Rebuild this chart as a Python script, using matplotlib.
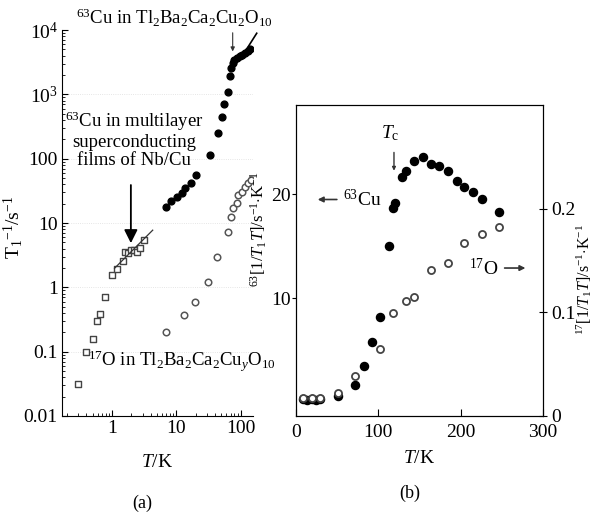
import matplotlib.pyplot as plt
from matplotlib.ticker import LogLocator, NullFormatter

plt.rcParams['font.family'] = 'Liberation Serif'
plt.rcParams['mathtext.fontset'] = 'custom'
plt.rcParams['mathtext.rm'] = 'Liberation Serif'
plt.rcParams['mathtext.it'] = 'Liberation Serif:italic'
plt.rcParams['mathtext.bf'] = 'Liberation Serif:bold'

# ---- panel (a) data: T1^-1 vs T (log-log) ----
nbcu_T = [0.30, 0.40, 0.51, 0.59, 0.65, 0.78, 1.0, 1.2, 1.48, 1.59, 1.77, 1.97, 2.19, 2.44, 2.72, 3.13]
nbcu_rate = [0.032, 0.098, 0.155, 0.30, 0.39, 0.70, 1.54, 1.9, 2.54, 3.5, 3.38, 3.76, 3.76, 3.5, 4.04, 5.38]
korringa_T = [1.1, 4.3]
korringa_const = 1.8

cu_T = [6.9, 8.2, 10.2, 12.2, 13.5, 16.8, 20.1, 33.1, 44.0, 50.7, 54.5, 62.8, 67.5, 70.0,
        75.2, 80.0, 86.7, 96.4, 105, 115, 128, 138]
cu_rate = [17.5, 21.8, 25.1, 29.0, 34.7, 41.4, 55.2, 113, 248, 440, 702, 1080, 1910, 2550,
           3050, 3400, 3650, 3920, 4150, 4360, 4750, 5030]

o_T = [6.9, 13.1, 19.4, 30.8, 42.5, 62.8, 70.0, 75.2, 86.7, 89.8, 104, 115, 128, 143]
o_rate = [0.20, 0.37, 0.60, 1.2, 3.0, 7.2, 12.3, 16.9, 20.3, 27.0, 30.0, 35.9, 41.4, 46.1]

# ---- panel (b) data: 1/(T1 T) vs T ----
cub_T = [8.5, 13, 19, 24, 29, 51, 72, 82, 92, 102, 113, 118, 120, 129, 134, 143, 154,
         164, 174, 185, 195, 204, 215, 226, 246]
cub_val = [0.3, 0.2, 0.3, 0.2, 0.3, 0.6, 1.6, 3.5, 5.8, 8.2, 15.0, 18.7, 19.2, 21.7, 22.2,
           23.2, 23.6, 22.9, 22.7, 22.2, 21.3, 20.7, 20.2, 19.5, 18.3]
ob_T = [8.5, 19, 29, 51, 72, 102, 118, 134, 143, 164, 185, 204, 226, 246]
ob_val = [0.017, 0.017, 0.017, 0.022, 0.039, 0.065, 0.099, 0.111, 0.115, 0.141, 0.148,
          0.167, 0.176, 0.182]

fig = plt.figure(figsize=(5.98, 5.13), dpi=100)

# ================= panel (a) =================
ax = fig.add_axes([62/598, 1-416/513, (253-62)/598, (416-30)/513])
ax.set_xscale('log')
ax.set_yscale('log')
ax.set_xlim(0.168, 155)
ax.set_ylim(0.01, 1e4)
ax.spines['top'].set_visible(False)
ax.spines['right'].set_visible(False)
for yv in [0.1, 1, 10, 100, 1000]:
    ax.axhline(yv, color='#dddddd', lw=0.6, ls=':', zorder=0)

ax.scatter(nbcu_T, nbcu_rate, marker='s', s=22, facecolors='white', edgecolors='#444444',
           linewidths=1.0, zorder=3)
ax.plot(korringa_T, [korringa_const*t for t in korringa_T], color='#333333', lw=0.9, zorder=4)
ax.scatter(cu_T, cu_rate, marker='o', s=24, color='black', zorder=3)
ax.scatter(o_T, o_rate, marker='o', s=22, facecolors='white', edgecolors='#555555',
           linewidths=1.1, zorder=3)

ax.set_yticks([0.01, 0.1, 1, 10, 100, 1000, 10000])
ax.set_yticklabels(['0.01', '0.1', '1', '10', '100', r'10$^3$', r'10$^4$'])
ax.set_xticks([1, 10, 100])
ax.set_xticklabels(['1', '10', '100'])
ax.xaxis.set_minor_locator(LogLocator(base=10, subs=range(2, 10), numticks=20))
ax.yaxis.set_minor_locator(LogLocator(base=10, subs=range(2, 10), numticks=20))
ax.xaxis.set_minor_formatter(NullFormatter())
ax.yaxis.set_minor_formatter(NullFormatter())
ax.tick_params(which='both', direction='in', labelsize=14, pad=3)
ax.tick_params(which='major', length=4)
ax.tick_params(which='minor', length=2)
ax.set_xlabel(r'$T$/K', fontsize=14, labelpad=12)
ax.set_ylabel(r'T$_1$$^{-1}$/s$^{-1}$', fontsize=14, labelpad=2)
ax.yaxis.set_label_coords(-0.195, 0.49)

ax.text(0.59, 1.03, r'$^{63}$Cu in Tl$_2$Ba$_2$Ca$_2$Cu$_2$O$_{10}$', transform=ax.transAxes,
        ha='center', va='center', fontsize=13.5)
ax.annotate('', xy=(75, 4200), xytext=(75, 10000), annotation_clip=False,
            arrowprops=dict(arrowstyle='-|>', color='#333333', lw=0.8, mutation_scale=6))
ax.plot([115, 177], [4500, 8900], color='black', lw=1.2, clip_on=False)

ax.text(2.2, 200, '$^{63}$Cu in multilayer\nsuperconducting\nfilms of Nb/Cu',
        ha='center', va='center', fontsize=13.5, linespacing=1.1)
ax.annotate('', xy=(1.97, 4.4), xytext=(1.97, 43),
            arrowprops=dict(arrowstyle='-|>', color='black', lw=1.3, mutation_scale=20))
ax.text(0.43, 0.07, r'$^{17}$O in Tl$_2$Ba$_2$Ca$_2$Cu$_y$O$_{10}$', ha='left', va='center',
        fontsize=13.5)
fig.text(142/598, 1-503/513, '(a)', ha='center', va='center', fontsize=13)

# ================= panel (b) =================
bx = fig.add_axes([296/598, 1-416/513, (543-296)/598, (416-105)/513])
bx.set_xlim(0, 300)
bx.set_ylim(-1.35, 28.6)
bx.scatter(cub_T, cub_val, marker='o', s=34, color='black', zorder=3)
bx.set_xticks([0, 100, 200, 300])
bx.set_yticks([10, 20])
bx.tick_params(axis='x', direction='in', labelsize=14, length=5, pad=6)
bx.tick_params(axis='y', direction='out', labelsize=14, length=3, pad=1)
bx.set_xlabel(r'$T$/K', fontsize=14, labelpad=6)
bx.set_ylabel(r'$^{63}$[1/$T_1$$T$]/s$^{-1}$$\cdot$K$^{-1}$', fontsize=12, labelpad=0)
bx.yaxis.set_label_coords(-0.11, 0.6)

br = bx.twinx()
br.set_ylim(0, 0.3)
br.scatter(ob_T, ob_val, marker='o', s=26, facecolors='white', edgecolors='#444444',
           linewidths=1.3, zorder=3)
br.set_yticks([0, 0.1, 0.2])
br.set_yticklabels(['0', '0.1', '0.2'])
br.tick_params(axis='y', direction='inout', labelsize=14, length=6, pad=3)
br.set_ylabel(r'$^{17}$[1/$T_1$$T$]/s$^{-1}$$\cdot$K$^{-1}$', fontsize=11.5, labelpad=4)
br.yaxis.set_label_coords(1.125, 0.44)

bx.text(114, 25.9, r'$T_{\rm c}$', ha='center', va='center', fontsize=14)
bx.annotate('', xy=(119, 22.0), xytext=(119, 24.3),
            arrowprops=dict(arrowstyle='-|>', color='#333333', lw=1.0, mutation_scale=5))
bx.annotate('', xy=(23, 19.5), xytext=(53, 19.5),
            arrowprops=dict(arrowstyle='-|>', color='#333333', lw=1.2, mutation_scale=8))
bx.text(57, 19.5, r'$^{63}$Cu', ha='left', va='center', fontsize=14)
bx.text(228, 12.9, r'$^{17}$O', ha='center', va='center', fontsize=14)
bx.annotate('', xy=(282, 12.9), xytext=(250, 12.9),
            arrowprops=dict(arrowstyle='-|>', color='#333333', lw=1.2, mutation_scale=8))
fig.text(410/598, 1-493/513, '(b)', ha='center', va='center', fontsize=13)

fig.savefig('out.png', dpi=100)
